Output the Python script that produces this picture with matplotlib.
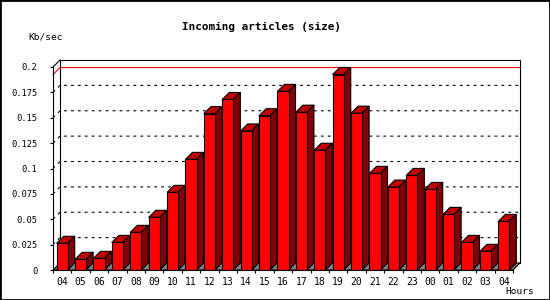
import matplotlib
matplotlib.use("Agg")
import matplotlib.pyplot as plt
from matplotlib.collections import PolyCollection
from matplotlib.patches import Rectangle, Polygon

# hourly incoming volume, Kb/sec
hours = ["04", "05", "06", "07", "08", "09", "10", "11", "12", "13", "14", "15", "16",
         "17", "18", "19", "20", "21", "22", "23", "00", "01", "02", "03", "04"]
kbsec = [0.0263, 0.0105, 0.0115, 0.0272, 0.0371, 0.0519, 0.0765, 0.109, 0.154, 0.168,
         0.137, 0.152, 0.176, 0.1555, 0.118, 0.1926, 0.1545, 0.0952, 0.0817, 0.0932,
         0.0794, 0.0548, 0.0272, 0.0184, 0.0479]
yticks = [0, 0.025, 0.05, 0.075, 0.1, 0.125, 0.15, 0.175, 0.2]
ylabels = ["0", "0.025", "0.05", "0.075", "0.1", "0.125", "0.15", "0.175", "0.2"]

plt.rcParams["lines.scale_dashes"] = False
MONO = "DejaVu Sans Mono"

W, H = 550, 300
fig = plt.figure(figsize=(5.5, 3), dpi=100)
fig.patch.set_facecolor("white")
fig.patches.append(Rectangle((0, 0), 1, 1, transform=fig.transFigure, fill=False,
                             edgecolor="black", linewidth=2))

# front plane of the plot, in pixels: x 53..513, y 270..67
ax = fig.add_axes([53 / W, 30 / H, 460 / W, 203 / H])
n = len(kbsec)
ymax = 0.2
ax.set_xlim(0, n)
ax.set_ylim(0, ymax)
ax.patch.set_visible(False)

# depth offset of the 3d look (7 px right, 7 px up)
dx = 7 / 460 * n
dy = 7 / 203 * ymax
lw = 0.8

# back wall
ax.add_patch(Rectangle((dx, dy), n, ymax, facecolor="white", edgecolor="black",
                       linewidth=lw, clip_on=False, zorder=1))
ax.plot([0, dx], [ymax, ymax + dy], color="black", linewidth=lw, clip_on=False, zorder=1)

# dotted grid lines on the back wall
for v in yticks[1:-1]:
    ax.plot([0, dx, n + dx], [v, v + dy, v + dy], color="black", linewidth=lw,
            linestyle=(0, (2, 3)), clip_on=False, zorder=2)

# max marker
vmax = max(kbsec)
ax.plot([0, dx, n + dx], [vmax, vmax + dy, vmax + dy], color="red", linewidth=lw,
        clip_on=False, zorder=2)

# floor
ax.add_patch(Polygon([(0, 0), (n, 0), (n + dx, dy), (dx, dy)], closed=True,
                     facecolor="#808080", edgecolor="black", linewidth=lw,
                     clip_on=False, zorder=3))

# bars: front faces, then tops and sides
bw = 0.6
xs = [i + 0.5 for i in range(n)]
ax.bar(xs, kbsec, width=bw, color="#ff0000", edgecolor="black", linewidth=lw, zorder=5)
tops, sides = [], []
for x, v in zip(xs, kbsec):
    l, r = x - bw / 2, x + bw / 2
    tops.append([(l, v), (r, v), (r + dx, v + dy), (l + dx, v + dy)])
    sides.append([(r, 0), (r + dx, dy), (r + dx, v + dy), (r, v)])
ax.add_collection(PolyCollection(tops, facecolors="#c00000", edgecolors="black",
                                 linewidths=lw, zorder=4, clip_on=False))
ax.add_collection(PolyCollection(sides, facecolors="#800000", edgecolors="black",
                                 linewidths=lw, zorder=4, clip_on=False))

# axes
for s in ["top", "right"]:
    ax.spines[s].set_visible(False)
for s in ["left", "bottom"]:
    ax.spines[s].set_linewidth(lw)
    ax.spines[s].set_zorder(6)

ax.set_yticks(yticks)
ax.set_yticklabels(ylabels, fontfamily=MONO, fontsize=6.3)
ax.tick_params(axis="y", direction="out", length=2.2, width=lw, pad=9)

ax.set_xticks(xs)
ax.set_xticklabels(hours, fontfamily=MONO, fontsize=7)
ax.set_xticks(range(n + 1), minor=True)
ax.tick_params(axis="x", which="major", length=0, pad=5)
ax.tick_params(axis="x", which="minor", direction="out", length=2.2, width=lw)

fig.text(261 / W, 1 - 27 / H, "Incoming articles (size)", fontfamily=MONO,
         fontweight="bold", fontsize=7.9, ha="center", va="center")
fig.text(28 / W, 1 - 37 / H, "Kb/sec", fontfamily=MONO, fontsize=6.8,
         ha="left", va="center")
fig.text(534 / W, 1 - 292 / H, "Hours", fontfamily=MONO, fontsize=6.8,
         ha="right", va="center")

fig.savefig("out.png", dpi=100)
